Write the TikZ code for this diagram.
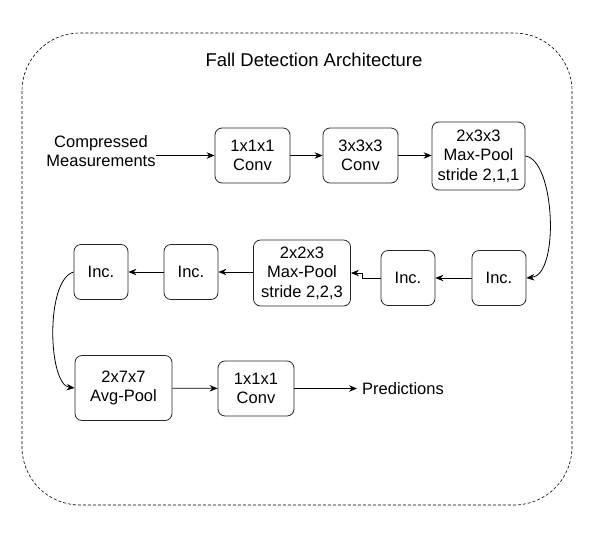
\documentclass[tikz,border=0pt]{standalone}
\usepackage{fontspec}
\setmainfont{Liberation Sans}
\usetikzlibrary{arrows.meta}
\begin{document}
\begin{tikzpicture}[x=1pt,y=-1pt,
  blk/.style={draw=black!85,line width=0.8pt,rounded corners=7pt,align=center,inner sep=0pt,font=\fontsize{16.5}{19.5}\selectfont},
  lbl/.style={align=center,inner sep=0pt,font=\fontsize{16.5}{19.5}\selectfont},
  arr/.style={line width=0.8pt,-{Stealth[length=8pt,width=6.5pt]}}]
\useasboundingbox (0,0) rectangle (597,539);
\draw[dashed,line width=0.6pt,rounded corners=58pt,dash pattern=on 3pt off 2pt] (22,33) rectangle (572,505);
\node[lbl,font=\fontsize{18.5}{21}\selectfont] (title) at (314,60) {Fall Detection Architecture};
\node[lbl] (in) at (101,151) {Compressed\\Measurements};
\node[blk,minimum width=75pt,minimum height=55pt] (c1) at (252.5,155.5) {1x1x1\\Conv};
\node[blk,minimum width=75pt,minimum height=55pt] (c2) at (360.5,155.5) {3x3x3\\Conv};
\node[blk,minimum width=93pt,minimum height=68pt] (mp1) at (478.5,156) {2x3x3\\Max-Pool\\stride 2,1,1};
\node[blk,minimum width=54pt,minimum height=55pt] (inc5) at (499,278) {Inc.};
\node[blk,minimum width=54pt,minimum height=55pt] (inc4) at (408,278) {Inc.};
\node[blk,minimum width=97pt,minimum height=66pt] (mp2) at (302,273) {2x2x3\\Max-Pool\\stride 2,2,3};
\node[blk,minimum width=54pt,minimum height=55pt] (inc2) at (191,272) {Inc.};
\node[blk,minimum width=54pt,minimum height=55pt] (inc1) at (101,272) {Inc.};
\node[blk,minimum width=97pt,minimum height=65pt] (ap) at (123.5,388) {2x7x7\\Avg-Pool};
\node[blk,minimum width=76pt,minimum height=55pt] (c3) at (256,388.5) {1x1x1\\Conv};
\node[lbl,anchor=west] (pred) at (362,389) {Predictions};
\coordinate (pe) at (357,388.5);
\draw[arr] (in.east |- c1.west) -- (c1.west);
\draw[arr] (c1) -- (c2);
\draw[arr] (c2) -- (c2 -| mp1.west);
\draw[arr] (mp1.east) .. controls (555,160) and (560,275) .. (inc5.east);
\draw[arr] (inc5) -- (inc4);
\draw[arr] (inc4.west) -| ([xshift=11pt]mp2.east) -- (mp2.east);
\draw[arr] (mp2.west |- inc2) -- (inc2.east);
\draw[arr] (inc2) -- (inc1);
\draw[arr] (inc1.west) .. controls (45,280) and (48,385) .. (ap.west);
\draw[arr] (ap) -- (c3);
\draw[arr] (c3.east) -- (pe);
\end{tikzpicture}
\end{document}
